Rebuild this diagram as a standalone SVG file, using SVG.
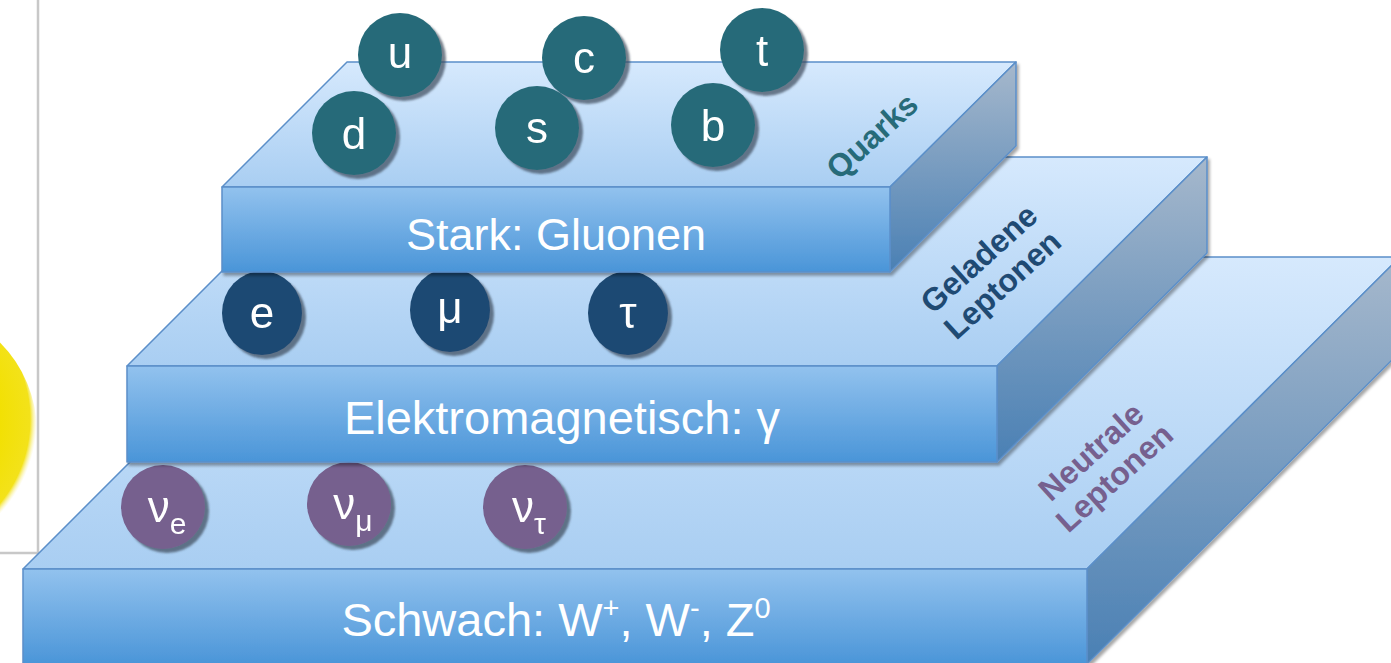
<svg xmlns="http://www.w3.org/2000/svg" width="1391" height="663" viewBox="0 0 1391 663">
<defs>
<linearGradient id="gFront" x1="0" y1="0" x2="0" y2="1"><stop offset="0" stop-color="#92c2ee"/><stop offset="1" stop-color="#4a95d8"/></linearGradient>
<linearGradient id="gTop" x1="0" y1="0" x2="0" y2="1"><stop offset="0" stop-color="#d6e9fd"/><stop offset="1" stop-color="#a9cef2"/></linearGradient>
<linearGradient id="gSide" x1="0" y1="0" x2="0" y2="1"><stop offset="0" stop-color="#a6b8cc"/><stop offset="1" stop-color="#4a80b4"/></linearGradient>
<radialGradient id="gSun" cx="0.45" cy="0.45" r="0.55"><stop offset="0" stop-color="#f4ee80"/><stop offset="0.7" stop-color="#f2e000"/><stop offset="0.95" stop-color="#f3e21a"/><stop offset="1" stop-color="#f8f0a0" stop-opacity="0"/></radialGradient>
<filter id="shadow" x="-5%" y="-5%" width="115%" height="120%"><feDropShadow dx="2" dy="3" stdDeviation="1.5" flood-color="#000" flood-opacity="0.35"/></filter>
<filter id="ballShadow" x="-20%" y="-20%" width="150%" height="150%"><feDropShadow dx="4" dy="4" stdDeviation="1" flood-color="#3a4a5a" flood-opacity="0.7"/></filter>
</defs>
<style>
.face{stroke:#5b8fc9;stroke-width:1.5;stroke-linejoin:round}
.front{fill:url(#gFront)}
.top{fill:url(#gTop)}
.side{fill:url(#gSide)}
.big{font-family:"Liberation Sans",Arial,sans-serif;font-size:47px;fill:#ffffff;text-anchor:middle}
.big45{font-size:45px}
.ball{font-family:"Liberation Sans",Arial,sans-serif;font-size:44px;fill:#ffffff;text-anchor:middle}
.quark{fill:#276b79}
.lepton{fill:#1f4a73}
.nu{fill:#76608e}
.lab{font-family:"Liberation Sans",Arial,sans-serif;font-size:32px;font-weight:bold;text-anchor:middle}
</style>
<g id="frame">
<path d="M38 0 V553 H0" fill="none" stroke="#c8c8c8" stroke-width="2.5"/>
<circle cx="-90" cy="432" r="127" fill="url(#gSun)"/>
</g>
<g id="slab-schwach" filter="url(#shadow)">
<polygon class="face top" points="23,569 335,257 1400,257 1087,569"/>
<polygon class="face side" points="1087,569 1400,257 1400,352 1087,664"/>
<rect class="face front" x="23" y="569" width="1064" height="96"/>
</g>
<text class="big" x="556" y="636">Schwach: W<tspan font-size="29" dy="-18">+</tspan><tspan dy="18">, W</tspan><tspan font-size="29" dy="-18">-</tspan><tspan dy="18">, Z</tspan><tspan font-size="29" dy="-18">0</tspan></text>
<g id="nu-e" filter="url(#ballShadow)"><ellipse class="nu" cx="163" cy="507" rx="42" ry="42"/><text class="ball" x="167" y="522">ν<tspan font-size="30" dy="12">e</tspan></text></g>
<g id="nu-mu" filter="url(#ballShadow)"><ellipse class="nu" cx="349" cy="504" rx="42" ry="42"/><text class="ball" x="353" y="519">ν<tspan font-size="30" dy="12">μ</tspan></text></g>
<g id="nu-tau" filter="url(#ballShadow)"><ellipse class="nu" cx="525" cy="507" rx="42" ry="42"/><text class="ball" x="529" y="522">ν<tspan font-size="30" dy="12">τ</tspan></text></g>
<text class="lab" fill="#76608e" transform="translate(1103,465) rotate(-42)"><tspan x="0" y="-7">Neutrale</tspan><tspan x="0" y="28">Leptonen</tspan></text>
<g id="slab-em" filter="url(#shadow)">
<polygon class="face top" points="127,366 336,157 1207,157 997,366"/>
<polygon class="face side" points="997,366 1207,157 1207,253 997,462"/>
<rect class="face front" x="127" y="366" width="870" height="96"/>
</g>
<text class="big" x="562" y="434">Elektromagnetisch: γ</text>
<g id="lep-e" filter="url(#ballShadow)"><ellipse class="lepton" cx="262" cy="313" rx="40" ry="42"/><text class="ball" x="262" y="328">e</text></g>
<g id="lep-mu" filter="url(#ballShadow)"><ellipse class="lepton" cx="450" cy="310" rx="40" ry="42"/><text class="ball" x="450" y="323">μ</text></g>
<g id="lep-tau" filter="url(#ballShadow)"><ellipse class="lepton" cx="628" cy="313" rx="40" ry="42"/><text class="ball" x="628" y="328">τ</text></g>
<text class="lab" fill="#1f4a73" transform="translate(991,272) rotate(-42)"><tspan x="0" y="-7">Geladene</tspan><tspan x="0" y="28">Leptonen</tspan></text>
<g id="slab-stark" filter="url(#shadow)">
<polygon class="face top" points="222,187 347,62 1016,62 890,187"/>
<polygon class="face side" points="890,187 1016,62 1016,146 890,272"/>
<rect class="face front" x="222" y="187" width="668" height="85"/>
</g>
<text class="big big45" x="556" y="250">Stark: Gluonen</text>
<g id="q-u" filter="url(#ballShadow)"><circle class="quark" cx="400" cy="55" r="42"/><text class="ball" x="400" y="68">u</text></g>
<g id="q-d" filter="url(#ballShadow)"><circle class="quark" cx="354" cy="133" r="42"/><text class="ball" x="354" y="149">d</text></g>
<g id="q-c" filter="url(#ballShadow)"><circle class="quark" cx="584" cy="58" r="42"/><text class="ball" x="584" y="73">c</text></g>
<g id="q-s" filter="url(#ballShadow)"><circle class="quark" cx="537" cy="128" r="42"/><text class="ball" x="537" y="143">s</text></g>
<g id="q-t" filter="url(#ballShadow)"><circle class="quark" cx="762" cy="50" r="42"/><text class="ball" x="762" y="66">t</text></g>
<g id="q-b" filter="url(#ballShadow)"><circle class="quark" cx="713" cy="125" r="42"/><text class="ball" x="713" y="141">b</text></g>
<text class="lab" fill="#276b79" transform="translate(872,136) rotate(-42)" x="0" y="11">Quarks</text>
</svg>
